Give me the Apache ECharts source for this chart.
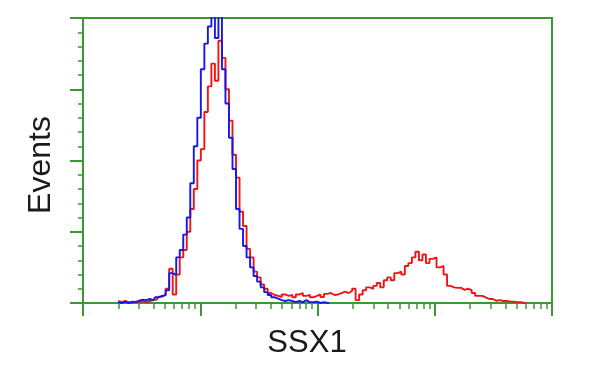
<!DOCTYPE html>
<html>
<head>
<meta charset="utf-8">
<script src="https://cdn.jsdelivr.net/npm/echarts@6/dist/echarts.min.js"></script>
<style>html,body{margin:0;padding:0;background:#fff}#c{width:600px;height:375px}</style>
</head>
<body>
<div id="c"></div>
<script>
// histogram bins: centre of bin i = binStart + i*binWidth (log10 decades)
var binStart = 0.3;
var binWidth = 0.03;
var redCounts = [0.7,0.3,0.7,0.3,0,0.5,0.3,0.7,0.3,0.7,
  1.0,1.2,2.2,2.8,5,12,3,10,16,18.6,
  25,33,40,50,54,67,76,84,78,92,
  86,75,64,52,44,32,27,19,16,11,
  9,6.5,5,3.5,2.8,2.5,2.1,3,2.5,2.8,
  2,3,3.5,2.5,2.8,2,2.5,3,2.1,3.2,
  3.5,2.8,3,3.5,4,3.5,4.2,5,1,3,
  4.5,5.5,5,6,7,5.5,8,9,8,10.5,
  11,10,13,14,16,18,15,17,14,15.5,
  16,12.5,13,10,6,5.5,5.3,5.3,4.6,5,
  4.5,3.5,2.5,2.5,2,1.4,1.4,0.8,1,0.7,
  0.7,0.5,0.5,0.3,0.3,0,0];
var blueCounts = [0.3,0,0.4,0,0.5,0.3,0.8,1.2,1.0,1.4,
  1.0,2.0,2.5,2.8,4.5,10.5,9.8,16,18.6,24,
  30,42,55,65,82,91,97,104,93,104,
  82,70,58,47,33,26,20,16,12.5,9.5,
  7.5,5.5,3.8,2.8,2.0,1.5,1.0,0.7,1.0,0.7,
  0.3,0.7,0.3,1.0,0.3,0.3,0.5,0,0.3,0,0];
var majorTicks = [0, 1, 2, 3, 4];
var minorMultipliers = [2, 3, 4, 5, 6, 7, 8, 9];
var xTitle = 'SSX1';
var yTitle = 'Events';

var green = '#389a30';
function toPairs(arr) {
  return arr.map(function (v, i) { return [binStart + i * binWidth, v]; });
}
var minorTicks = [];
for (var d = 0; d < 4; d++) {
  minorMultipliers.forEach(function (k) { minorTicks.push(d + Math.log10(k)); });
}

var chart = echarts.init(document.getElementById('c'), null, {renderer: 'canvas'});
chart.setOption({
  animation: false,
  backgroundColor: '#fff',
  grid: {left: 83, top: 18, right: 48, bottom: 72, show: true, borderColor: green, borderWidth: 2, backgroundColor: '#fff'},
  xAxis: [{
    type: 'value', min: 0, max: 4, position: 'bottom',
    axisLine: {show: true, lineStyle: {color: green, width: 2}},
    axisTick: {show: true, customValues: majorTicks, length: 13, lineStyle: {color: green, width: 2}},
    axisLabel: {show: false}, splitLine: {show: false}
  }, {
    type: 'value', min: 0, max: 4, position: 'bottom', gridIndex: 0,
    axisLine: {show: false},
    axisTick: {show: true, customValues: minorTicks, length: 6, lineStyle: {color: green, width: 1.5}},
    axisLabel: {show: false}, splitLine: {show: false}
  }],
  yAxis: {
    type: 'value', min: 0, max: 100, interval: 25,
    axisLine: {show: true, lineStyle: {color: green, width: 2}},
    axisTick: {show: true, length: 13, lineStyle: {color: green, width: 2}},
    minorTick: {show: true, splitNumber: 5, length: 5, lineStyle: {color: green, width: 1.5}},
    axisLabel: {show: false}, splitLine: {show: false}
  },
  series: [{
    type: 'line', xAxisIndex: 0, step: 'middle', showSymbol: false, clip: true,
    data: toPairs(redCounts), lineStyle: {color: '#f01515', width: 1.9}, itemStyle: {color: '#f01515'}
  }, {
    type: 'line', xAxisIndex: 0, step: 'middle', showSymbol: false, clip: true,
    data: toPairs(blueCounts), lineStyle: {color: '#1818e6', width: 1.9}, itemStyle: {color: '#1818e6'}
  }],
  graphic: [{
    type: 'text', x: 307, y: 343,
    style: {text: xTitle, font: '31px "Liberation Sans", Arial, sans-serif', fill: '#1a1a1a', align: 'center', verticalAlign: 'middle'}
  }, {
    type: 'text', x: 41, y: 165, rotation: Math.PI / 2,
    style: {text: yTitle, font: '32px "Liberation Sans", Arial, sans-serif', fill: '#1a1a1a', align: 'center', verticalAlign: 'middle'}
  }]
});
</script>
</body>
</html>
